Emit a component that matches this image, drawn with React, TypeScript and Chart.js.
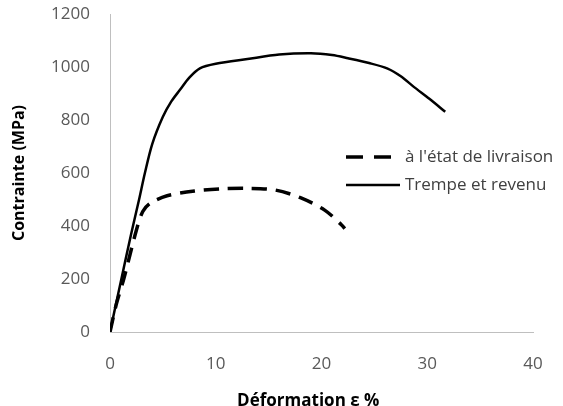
import { useEffect, useRef } from "react";
import { Chart, registerables } from "chart.js";

Chart.register(...registerables);

// Déformation (%) and contrainte (MPa) for each curve
const livraisonX = [0, 0.6, 1.3, 2.5, 3.1, 3.8, 5.4, 8.0, 10.5, 13.0, 15.6, 18.0, 20.3, 21.9, 22.2];
const livraisonY = [0, 105, 200, 385, 455, 486, 514, 532, 540, 542, 536, 507, 460, 404, 390];

const trempeX = [0, 1.0, 2.0, 2.75, 3.3, 4.0, 5.0, 5.8, 6.6, 7.5, 8.5, 10.0, 13.0, 16.0, 19.0, 21.0, 22.5, 24.5, 26.2, 27.5, 28.7, 30.2, 31.7];
const trempeY = [0, 186, 370, 500, 600, 710, 812, 870, 913, 960, 995, 1012, 1030, 1047, 1052, 1045, 1033, 1015, 995, 965, 926, 880, 831];

const seriesLabels = ["à l'état de livraison", "Trempe et revenu"];
const xTicks = [0, 10, 20, 30, 40];
const yTicks = [0, 200, 400, 600, 800, 1000, 1200];
const xTitle = "Déformation ε %      ";
const yTitle = "Contrainte (MPa)";

const toPoints = (xs: number[], ys: number[]) => xs.map((x, i) => ({ x, y: ys[i] }));

const legendPlugin = {
  id: "insideLegend",
  afterDraw(chart: any) {
    const ctx = chart.ctx;
    const rows = [157, 185];
    chart.data.datasets.forEach((ds: any, i: number) => {
      const y = rows[i];
      const dashed = ds.borderDash && ds.borderDash.length;
      ctx.save();
      ctx.strokeStyle = ds.borderColor;
      ctx.lineWidth = ds.borderWidth;
      ctx.lineCap = "butt";
      ctx.setLineDash(dashed ? [17, 11] : []);
      ctx.beginPath();
      ctx.moveTo(346, y);
      ctx.lineTo(dashed ? 391 : 400, y);
      ctx.stroke();
      ctx.setLineDash([]);
      ctx.font = '17px "Open Sans"';
      ctx.fillStyle = "#404040";
      ctx.textBaseline = "middle";
      ctx.textAlign = "left";
      ctx.fillText(ds.label, 405, y);
      ctx.restore();
    });
  },
};

export default function App() {
  const ref = useRef<HTMLCanvasElement | null>(null);

  useEffect(() => {
    document.body.style.margin = "0";
    const canvas = ref.current;
    if (!canvas) return;
    const chart = new Chart(canvas, {
      type: "scatter",
      data: {
        datasets: [
          {
            label: seriesLabels[0],
            data: toPoints(livraisonX, livraisonY),
            showLine: true,
            borderColor: "#000000",
            backgroundColor: "#000000",
            borderWidth: 3.5,
            borderDash: [15, 9],
            pointRadius: 0,
            tension: 0.3,
            fill: false,
          },
          {
            label: seriesLabels[1],
            data: toPoints(trempeX, trempeY),
            showLine: true,
            borderColor: "#000000",
            backgroundColor: "#000000",
            borderWidth: 2.5,
            pointRadius: 0,
            tension: 0.3,
            fill: false,
          },
        ],
      },
      options: {
        animation: false,
        responsive: false,
        maintainAspectRatio: false,
        devicePixelRatio: 1,
        layout: { padding: { top: 14, right: 30, left: 0, bottom: 0 } },
        plugins: {
          legend: { display: false },
          tooltip: { enabled: false },
        },
        scales: {
          x: {
            type: "linear",
            min: xTicks[0],
            max: xTicks[xTicks.length - 1],
            afterBuildTicks: (scale: any) => {
              scale.ticks = xTicks.map((v) => ({ value: v }));
            },
            afterFit: (scale: any) => {
              scale.height = 74;
              scale.paddingLeft = 5;
              scale.paddingRight = 5;
            },
            grid: { display: true, drawOnChartArea: false, drawTicks: false },
            border: { display: true, color: "#bfbfbf", width: 1 },
            ticks: {
              padding: 22,
              color: "#595959",
              font: { family: "Open Sans", size: 17 },
              callback: (v: any) => String(v),
            },
            title: {
              display: true,
              text: xTitle,
              color: "#000000",
              font: { family: "Open Sans", size: 17, weight: "bold" },
              padding: { top: 0, bottom: -5 },
            },
          },
          y: {
            type: "linear",
            min: yTicks[0],
            max: yTicks[yTicks.length - 1],
            afterBuildTicks: (scale: any) => {
              scale.ticks = yTicks.map((v) => ({ value: v }));
            },
            afterFit: (scale: any) => {
              scale.width = 110;
              scale.paddingTop = 5;
              scale.paddingBottom = 5;
            },
            grid: { display: true, drawOnChartArea: false, drawTicks: false },
            border: { display: true, color: "#bfbfbf", width: 1 },
            ticks: {
              padding: 20,
              color: "#595959",
              font: { family: "Open Sans", size: 17 },
              callback: (v: any) => String(v),
            },
            title: {
              display: true,
              text: yTitle,
              color: "#000000",
              font: { family: "Open Sans", size: 16, weight: "bold" },
              padding: { top: 10, bottom: 0 },
            },
          },
        },
      },
      plugins: [legendPlugin],
    });
    return () => chart.destroy();
  }, []);

  return (
    <div style={{ position: "absolute", left: 0, top: 0, width: 563, height: 406 }}>
      <canvas ref={ref} width={563} height={406} />
    </div>
  );
}
